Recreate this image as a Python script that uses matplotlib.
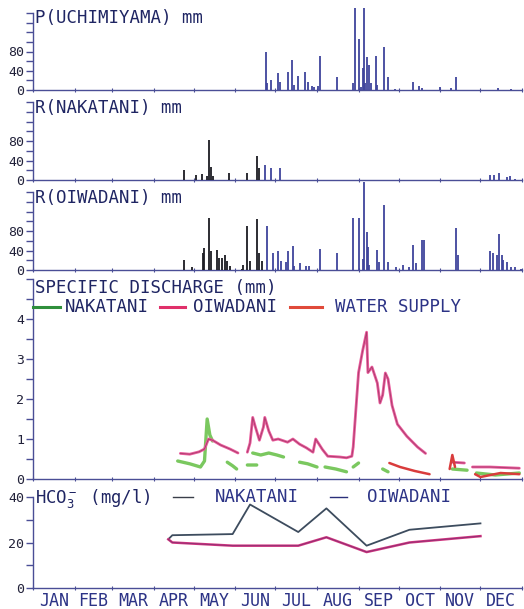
import numpy as np
import matplotlib
matplotlib.use("Agg")
import matplotlib.pyplot as plt
from matplotlib.ticker import FixedLocator
from matplotlib.lines import Line2D

plt.rcParams['font.family'] = ['DejaVu Sans Mono']

nan = np.nan

months = ['JAN', 'FEB', 'MAR', 'APR', 'MAY', 'JUN', 'JUL', 'AUG', 'SEP', 'OCT', 'NOV', 'DEC']
month_edges = [0, 31, 59, 90, 120, 151, 181, 212, 243, 273, 304, 334, 365]

# rainfall (mm/day), day of year
p_uchi_day = [174, 175, 178, 183, 184, 190, 193, 195, 198, 203, 205, 208, 210, 213, 214, 227,
              239, 240, 243, 245, 246, 247, 248, 249, 251, 252, 256, 257, 262, 265, 270,
              284, 288, 290, 304, 312, 316, 347, 357]
p_uchi_val = [80, 15, 21, 35, 17, 37, 63, 11, 29, 37, 17, 8, 6, 8, 71, 28,
              15, 170, 106, 6, 46, 170, 15, 69, 52, 15, 71, 11, 89, 27, 3,
              17, 8, 5, 6, 5, 27, 4, 3]

r_naka_day = [113, 122, 126, 130, 131, 133, 134, 146, 160, 167, 169, 173, 178, 184,
              341, 344, 348, 354, 356, 360]
r_naka_val = [21, 10, 12, 8, 83, 27, 8, 15, 15, 50, 25, 31, 24, 24,
              10, 10, 14, 7, 8, 3]

r_oiwa_day = [113, 119, 127, 128, 131, 133, 137, 139, 141, 143, 145, 147, 156, 157, 160, 162,
              167, 169, 171, 175, 179, 183, 185, 189, 190, 194, 195, 199, 204, 206, 214, 227,
              239, 243, 246, 247, 249, 250, 251, 257, 258, 262, 265, 271, 276, 281, 284, 286,
              290, 292, 316, 317, 341, 343, 346, 348, 350, 351, 354, 357, 360, 364]
r_oiwa_val = [21, 7, 35, 46, 107, 39, 42, 25, 25, 30, 19, 9, 3, 11, 91, 19,
              105, 35, 19, 91, 35, 39, 19, 17, 39, 50, 9, 14, 9, 9, 44, 34,
              106, 106, 22, 180, 78, 48, 11, 42, 17, 133, 16, 7, 11, 7, 52, 14,
              61, 61, 87, 31, 40, 35, 31, 73, 30, 20, 17, 7, 6, 3]

# specific discharge (mm), gaps marked with nan
naka_q_day = [108, 117, 125, 128, 130, 132, 134, nan, 145, 149, 152, nan, 160, 167, nan,
              164, 170, 176, 182, 187, nan, 199, 205, 212, nan, 218, 226, 234, nan, 239, 243, nan,
              261, 265, nan, 313, 324, nan, 331, 345, 363]
naka_q_val = [0.45, 0.38, 0.3, 0.45, 1.5, 1.1, 0.95, nan, 0.42, 0.33, 0.25, nan, 0.35, 0.35, nan,
              0.65, 0.6, 0.65, 0.6, 0.55, nan, 0.42, 0.38, 0.3, nan, 0.3, 0.25, 0.18, nan, 0.3, 0.4, nan,
              0.25, 0.18, nan, 0.25, 0.22, nan, 0.15, 0.1, 0.15]

oiwa_q_day = [110, 117, 124, 128, 131, 134, 140, 147, 153, nan,
              160, 162, 164, 166, 169, 172, 173, 176, 179, 183, 190, 194, 199, 204, 209, 211, 216,
              220, 229, 234, 238, 239, 243, 246, 249, 250, 253, 257, 259, 261, 263, 265, 268, 272,
              279, 287, 293, nan, 313, 322, nan, 328, 341, 363]
oiwa_q_val = [0.64, 0.62, 0.68, 0.75, 1.0, 0.97, 0.85, 0.75, 0.65, nan,
              0.67, 0.9, 1.54, 1.3, 0.97, 1.3, 1.54, 1.2, 0.97, 1.0, 0.92, 1.0, 0.87, 0.78, 0.67, 1.0, 0.74,
              0.57, 0.55, 0.53, 0.57, 0.8, 2.66, 3.2, 3.67, 2.66, 2.8, 2.4, 1.9, 2.1, 2.65, 2.5, 1.84, 1.37,
              1.07, 0.8, 0.64, nan, 0.42, 0.4, nan, 0.3, 0.3, 0.27]

ws_q_day = [266, 274, 285, 296, nan, 311, 313, 315, nan, 330, 334, 349, 363]
ws_q_val = [0.4, 0.3, 0.2, 0.12, nan, 0.25, 0.6, 0.3, nan, 0.12, 0.05, 0.15, 0.12]

# bicarbonate (mg/l)
hco3_day = [101, 104, 149, 162, 198, 219, 249, 281, 334]
hco3_naka = [21.4, 23.2, 23.7, 36.7, 24.6, 35.0, 18.6, 25.6, 28.4]
hco3_oiwa = [21.4, 20.0, 18.6, 18.6, 18.6, 22.3, 15.8, 20.0, 22.8]

TEXT = '#1f2563'
TEXT_BLUE = '#2c3386'
AXIS = '#4a4e96'
BLACK_PEN = '#1b1b22'
BLUE_PEN = '#3f449c'
PEN_CHANGE = 172

W, H = 524, 609
fig = plt.figure(figsize=(W / 100, H / 100), dpi=100)
fig.patch.set_facecolor('white')


def box(top, bottom):
    return [33 / W, 1 - bottom / H, 489 / W, (bottom - top) / H]


def px(x, y):
    return x / W, 1 - y / H


def style_axis(ax, ymax, major, labels, minor):
    ax.set_xlim(0, 365)
    ax.set_ylim(0, ymax)
    ax.patch.set_alpha(0)
    for s in ['top', 'right']:
        ax.spines[s].set_visible(False)
    for s in ['left', 'bottom']:
        ax.spines[s].set_color(AXIS)
        ax.spines[s].set_linewidth(1.0)
    ax.set_xticks(month_edges)
    ax.set_xticklabels([])
    ax.tick_params(axis='x', which='major', direction='inout', length=3, color=AXIS)
    ax.set_yticks(major)
    ax.set_yticklabels(labels)
    ax.yaxis.set_minor_locator(FixedLocator(minor + [ymax]))
    ax.tick_params(axis='y', which='both', direction='out', length=5, width=1,
                   color=AXIS, labelsize=9.5, pad=1.5, labelcolor='#22223a')


# rainfall panels
rain = [
    (13, 90, p_uchi_day, p_uchi_val, 'P(UCHIMIYAMA) mm', 18),
    (102, 180, r_naka_day, r_naka_val, 'R(NAKATANI) mm', 108),
    (192, 270, r_oiwa_day, r_oiwa_val, 'R(OIWADANI) mm', 198),
]
for top, bottom, d, v, title, ty in rain:
    ax = fig.add_axes(box(top, bottom))
    style_axis(ax, 160, [0, 40, 80], ['0', '40', '80'], [20, 60, 100, 120, 140])
    d = np.array(d)
    v = np.array(v)
    cols = [BLACK_PEN if x < PEN_CHANGE else BLUE_PEN for x in d]
    ax.vlines(d, 0, v, colors=cols, linewidth=1.3, clip_on=False, zorder=3)
    fig.text(*px(35, ty), title, fontsize=12.5, color=TEXT, va='center', ha='left')

# specific discharge
axq = fig.add_axes(box(279, 479))
style_axis(axq, 5, [0, 1, 2, 3, 4], ['0', '1', '2', '3', '4'],
           [0.5, 1.5, 2.5, 3.5, 4.5])
axq.plot(naka_q_day, naka_q_val, color='#6cc24e', linewidth=2.4, alpha=0.9,
         solid_capstyle='round')
axq.plot(oiwa_q_day, oiwa_q_val, color='#ea5a9c', linewidth=2.0, solid_capstyle='round')
axq.plot(oiwa_q_day, oiwa_q_val, color='#7a2a4a', linewidth=0.6, alpha=0.6)
axq.plot(ws_q_day, ws_q_val, color='#d93c3c', linewidth=1.8, solid_capstyle='round')

fig.text(*px(35, 288), 'SPECIFIC DISCHARGE (mm)', fontsize=12.5, color=TEXT,
         va='center', ha='left')
legend_q = [
    (33, 60, '#2f8f3c', 65, 'NAKATANI', TEXT),
    (160, 185, '#e0306a', 193, 'OIWADANI', TEXT),
    (290, 322, '#e04a3a', 335, 'WATER SUPPLY', TEXT_BLUE),
]
for x0, x1, c, tx, name, tc in legend_q:
    fig.add_artist(Line2D([x0 / W, x1 / W], [1 - 307 / H] * 2, color=c, linewidth=2.2,
                          transform=fig.transFigure))
    fig.text(*px(tx, 307), name, fontsize=12.5, color=tc, va='center', ha='left')

# HCO3
axh = fig.add_axes(box(497, 588))
style_axis(axh, 40, [0, 20, 40], ['0', '20', '40'], [10, 30])
axh.plot(hco3_day, hco3_naka, color='#3d4c5e', linewidth=1.3)
axh.plot(hco3_day, hco3_oiwa, color='#d2357f', linewidth=1.8)
axh.plot(hco3_day, hco3_oiwa, color='#5a2a6a', linewidth=0.6, alpha=0.6)

mid = [(month_edges[i] + month_edges[i + 1]) / 2 for i in range(12)]
axh.set_xticks(mid, minor=True)
axh.set_xticklabels(months, minor=True)
axh.tick_params(axis='x', which='minor', length=0, pad=3, labelsize=12, labelcolor=TEXT_BLUE)

fig.text(*px(35, 499), r'HCO$\mathregular{_3^-}$ (mg/l)', fontsize=12.5, color=TEXT,
         va='center', ha='left')
legend_h = [(173, 193, '#3a3f4a', 215, 'NAKATANI'), (330, 347, '#2a2f7a', 367, 'OIWADANI')]
for x0, x1, c, tx, name in legend_h:
    fig.add_artist(Line2D([x0 / W, x1 / W], [1 - 497 / H] * 2, color=c, linewidth=1.0,
                          transform=fig.transFigure))
    fig.text(*px(tx, 497), name, fontsize=12.5, color=TEXT_BLUE, va='center', ha='left')

fig.savefig('out.png', dpi=100, facecolor='white')
